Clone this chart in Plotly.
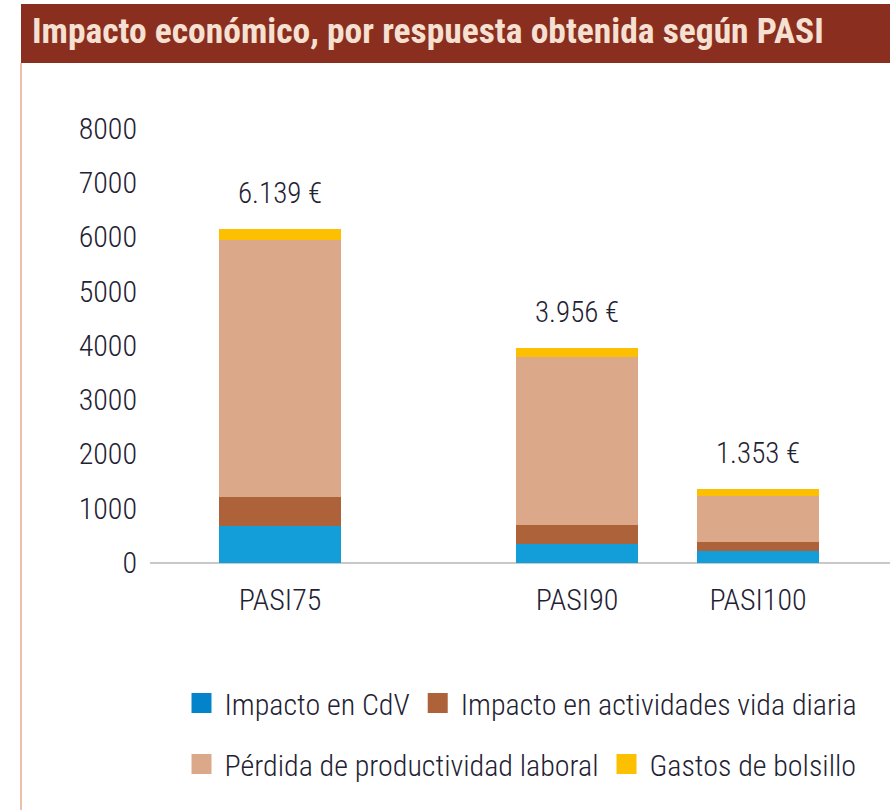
import plotly.graph_objects as go

# ---------------- data ----------------
categories = ["PASI75", "PASI90", "PASI100"]
impacto_cdv = [669, 345, 221]
impacto_actividades = [547, 343, 148]
perdida_productividad = [4733, 3097, 860]
gastos_bolsillo = [190, 171, 124]
totales = [6139, 3956, 1353]
series_names = ["Impacto en CdV", "Impacto en actividades vida diaria",
                "Pérdida de productividad laboral", "Gastos de bolsillo"]
y_ticks = [0, 1000, 2000, 3000, 4000, 5000, 6000, 7000, 8000]
title_text = "Impacto económico, por respuesta obtenida según PASI"

# ---------------- layout / style ----------------
W, H = 890, 810
M_L, M_R, M_T, M_B = 150, 0, 95, 231
PLOT_W = W - M_L - M_R
PLOT_H = H - M_T - M_B
cat_pos = [0, 1.641, 2.641]          # group positions on the x axis
bar_w = 0.674
x_range = [-0.7182, 3.3702]
y_range = [-304, 8613]

bar_colors = ["#139DD9", "#AE623A", "#DBA98A", "#FDC000"]
legend_colors = ["#0384CA", "#AE623A", "#DBA98A", "#FDC000"]
text_col = "#1F2233"
FONT = "'Roboto Condensed', 'Liberation Sans Narrow', 'DejaVu Sans Condensed', 'Arial Narrow', Roboto, sans-serif"


def px_x(px):
    return (px - M_L) / PLOT_W


def px_y(py):
    return (H - M_B - py) / PLOT_H


fig = go.Figure()
series = [impacto_cdv, impacto_actividades, perdida_productividad, gastos_bolsillo]
for name, vals, col in zip(series_names, series, bar_colors):
    fig.add_trace(go.Bar(
        x=cat_pos, y=vals, name=name, width=bar_w,
        marker=dict(color=col, line=dict(width=0)),
        showlegend=False, hoverinfo="y+name",
    ))

# legend entries (two rows, as in the reference)
for i, (name, col) in enumerate(zip(series_names, legend_colors)):
    fig.add_trace(go.Scatter(
        x=[None], y=[None], mode="markers", name=name,
        marker=dict(symbol="square", size=16, color=col, line=dict(color=col, width=4)),
        legend="legend" if i < 2 else "legend2",
    ))

annotations = []
for xp, tot in zip(cat_pos, totales):
    annotations.append(dict(
        x=xp, y=tot, xref="x", yref="y",
        text=f"{tot:,}".replace(",", ".") + " €",
        showarrow=False, yanchor="middle", yshift=36,
        font=dict(family=FONT, size=29, color=text_col, weight=300),
    ))

annotations.append(dict(
    x=px_x(30), y=px_y(31), xref="paper", yref="paper",
    text=f"<b>{title_text}</b>", showarrow=False,
    xanchor="left", yanchor="middle",
    font=dict(family=FONT, size=35.5, color="#F6E0D2"),
))

shapes = [
    dict(type="rect", xref="paper", yref="paper",
         x0=px_x(21), x1=px_x(W), y0=px_y(63), y1=px_y(4),
         fillcolor="#8A2E1F", line=dict(width=0), layer="below"),
    dict(type="line", xref="paper", yref="paper",
         x0=px_x(21), x1=px_x(21), y0=px_y(63), y1=px_y(H),
         line=dict(color="#E6AC8E", width=1.5)),
]

legend_common = dict(orientation="h", xref="container", yref="container",
                     xanchor="left", yanchor="middle", traceorder="normal",
                     itemwidth=36,
                     font=dict(family=FONT, size=30, color=text_col, weight=300),
                     bgcolor="rgba(0,0,0,0)")

fig.update_layout(
    width=W, height=H,
    margin=dict(l=M_L, r=M_R, t=M_T, b=M_B, pad=0),
    paper_bgcolor="white", plot_bgcolor="white",
    barmode="stack",
    font=dict(family=FONT, size=30, color=text_col, weight=300),
    xaxis=dict(range=x_range, tickvals=cat_pos, ticktext=categories,
               showgrid=False, zeroline=False, showline=False, ticks="",
               tickfont=dict(size=30, color=text_col, weight=300), ticklabelstandoff=0),
    yaxis=dict(range=y_range, tickvals=y_ticks, showgrid=False,
               zeroline=True, zerolinecolor="#C8C8C8", zerolinewidth=1.5,
               showline=False, ticks="", ticklabelstandoff=12,
               tickfont=dict(size=30, color=text_col, weight=300)),
    legend=dict(x=178.5 / W, y=1 - 703 / H, **legend_common),
    legend2=dict(x=178.5 / W, y=1 - 764 / H, **legend_common),
    annotations=annotations,
    shapes=shapes,
    showlegend=True,
)

fig.write_html("out.html", config={"displayModeBar": False},
               post_script="document.body.style.margin='0';document.body.style.padding='0';")
